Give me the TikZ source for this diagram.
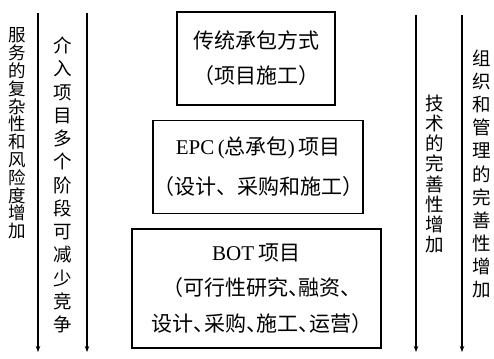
\documentclass[tikz,border=0pt]{standalone}
\usepackage{fontspec}
\setmainfont{Liberation Serif}
\newfontfamily\cjk{Noto Sans CJK SC}
\usetikzlibrary{arrows.meta}
\newcommand{\dun}{\makebox[0.5em][l]{、}}
\newcommand{\rpn}{\makebox[0.5em][l]{）}}
\begin{document}
\begin{tikzpicture}[x=1pt,y=-1pt,
  box/.style={draw,line width=1.6pt,inner sep=0pt,align=center,
    font=\cjk\fontsize{21}{35}\selectfont},
  vtext/.style={inner sep=0pt,align=center},
  flow/.style={line width=1.6pt,-{Stealth[length=6pt,width=4.5pt]}}]
\useasboundingbox[fill=white] (0,0) rectangle (494,358);
% boxes
\node[box,minimum width=158pt,minimum height=93pt] (b1) at (256,58.5)
  {传统承包方式\\（项目施工）};
\node[box,minimum width=210pt,minimum height=93pt,
  font=\cjk\fontsize{21}{40}\selectfont] (b2) at (258,167)
  {{\rmfamily EPC\,(}总承包{\rmfamily)\,}项目\\（设计、采购和施工）};
\node[box,minimum width=249pt,minimum height=119pt,
  font=\cjk\fontsize{21}{35.5}\selectfont] (b3) at (256.5,288.5)
  {{\rmfamily BOT} 项目\\（可行性研究\dun 融资\dun\\设计\dun 采购\dun 施工\dun 运营\rpn};
% arrows
\coordinate (l1s) at (38,13);  \coordinate (l1e) at (38,352);
\coordinate (l2s) at (87,13);  \coordinate (l2e) at (87,352);
\coordinate (r1s) at (416,15); \coordinate (r1e) at (416,352);
\coordinate (r2s) at (462,15); \coordinate (r2e) at (462,352);
\draw[flow] (l1s) -- (l1e);
\draw[flow] (l2s) -- (l2e);
\draw[flow] (r1s) -- (r1e);
\draw[flow] (r2s) -- (r2e);
% vertical texts
\node[vtext,font=\cjk\fontsize{17.5}{17.8}\selectfont] (t1) at (17,133.5)
  {服\\务\\的\\复\\杂\\性\\和\\风\\险\\度\\增\\加};
\node[vtext,font=\cjk\fontsize{18.5}{23.25}\selectfont] (t2) at (63,185)
  {介\\入\\项\\目\\多\\个\\阶\\段\\可\\减\\少\\竞\\争};
\node[vtext,font=\cjk\fontsize{18.5}{20.1}\selectfont] (t3) at (435,174)
  {技\\术\\的\\完\\善\\性\\增\\加};
\node[vtext,font=\cjk\fontsize{18.5}{23.1}\selectfont] (t4) at (482,174)
  {组\\织\\和\\管\\理\\的\\完\\善\\性\\增\\加};
\end{tikzpicture}
\end{document}
